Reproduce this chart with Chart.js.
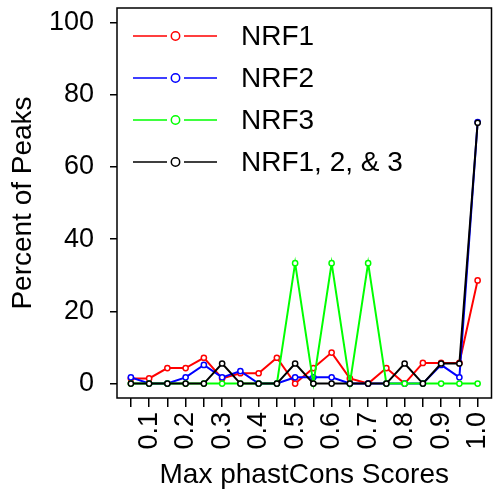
<!DOCTYPE html>
<html>
<head>
<meta charset="utf-8">
<script src="https://cdn.jsdelivr.net/npm/chart.js@4"></script>
<style>
  html, body { margin: 0; padding: 0; background: #fff; }
  #wrap { width: 497px; height: 495px; }
</style>
</head>
<body>
<div id="wrap"><canvas id="chart" width="497" height="495"></canvas></div>
<script>
// phastCons bins (x) and percent of peaks per factor
const scores = [0.05, 0.1, 0.15, 0.2, 0.25, 0.3, 0.35, 0.4, 0.45, 0.5,
                0.55, 0.6, 0.65, 0.7, 0.75, 0.8, 0.85, 0.9, 0.95, 1.0];
const xTickLabels = ["", "0.1", "", "0.2", "", "0.3", "", "0.4", "", "0.5",
                     "", "0.6", "", "0.7", "", "0.8", "", "0.9", "", "1.0"];
const yTicks = [0, 20, 40, 60, 80, 100];

const nrf1 = [1.43, 1.43, 4.29, 4.29, 7.14, 1.43, 2.86, 2.86, 7.14, 0,
              4.29, 8.57, 1.43, 0, 4.29, 0, 5.71, 5.71, 5.71, 28.57];
const nrf2 = [1.72, 0, 0, 1.72, 5.17, 1.72, 3.45, 0, 0, 1.72,
              1.72, 1.72, 0, 0, 0, 0, 0, 5.17, 1.72, 72.41];
const nrf3 = [0, 0, 0, 0, 0, 0, 0, 0, 0, 33.33,
              0, 33.33, 0, 33.33, 0, 0, 0, 0, 0, 0];
const nrfAll = [0, 0, 0, 0, 0, 5.56, 0, 0, 0, 5.56,
                0, 0, 0, 0, 0, 5.56, 0, 5.56, 5.56, 72.22];

const seriesNames = ["NRF1", "NRF2", "NRF3", "NRF1, 2, & 3"];
const seriesColors = ["#ff0000", "#0000ff", "#00ff00", "#000000"];
const seriesValues = [nrf1, nrf2, nrf3, nrfAll];

const FONT = "'Liberation Sans', Arial, sans-serif";

function makeDataset(i) {
  return {
    label: seriesNames[i],
    data: scores.map((x, j) => ({ x: x, y: seriesValues[i][j] })),
    borderColor: seriesColors[i],
    backgroundColor: "#ffffff",
    pointBackgroundColor: "#ffffff",
    pointBorderColor: seriesColors[i],
    pointRadius: 2.6,
    pointBorderWidth: 1.5,
    borderWidth: 2,
    tension: 0,
    order: 3 - i, // black drawn last, on top
  };
}

// box around the plot + R style legend inside
const boxAndLegend = {
  id: "boxAndLegend",
  afterDraw(chart) {
    const ctx = chart.ctx;
    const a = chart.chartArea;
    ctx.save();
    ctx.strokeStyle = "#000";
    ctx.lineWidth = 1.5;
    ctx.strokeRect(a.left, a.top, a.right - a.left, a.bottom - a.top);

    const rowY = [36, 78, 120, 162];
    ctx.font = "28px " + FONT;
    ctx.textBaseline = "middle";
    ctx.textAlign = "left";
    seriesNames.forEach((name, i) => {
      const y = rowY[i];
      ctx.strokeStyle = seriesColors[i];
      ctx.lineWidth = 1.5;
      ctx.beginPath();
      ctx.moveTo(133, y);
      ctx.lineTo(167, y);
      ctx.moveTo(184, y);
      ctx.lineTo(217, y);
      ctx.stroke();
      ctx.beginPath();
      ctx.arc(175.5, y, 4.2, 0, Math.PI * 2);
      ctx.stroke();
      ctx.fillStyle = "#000";
      ctx.fillText(name, 241, y + 1);
    });
    ctx.restore();
  },
};

const ctx = document.getElementById("chart").getContext("2d");
new Chart(ctx, {
  type: "line",
  data: { datasets: [0, 1, 2, 3].map(makeDataset) },
  plugins: [boxAndLegend],
  options: {
    responsive: false,
    animation: false,
    layout: { padding: { top: 8, right: 1, left: 0, bottom: 0 } },
    plugins: { legend: { display: false }, tooltip: { enabled: false } },
    scales: {
      x: {
        type: "linear",
        min: 0.012,
        max: 1.038,
        afterBuildTicks: (scale) => {
          scale.ticks = scores.map((v) => ({ value: v }));
        },
        afterFit: (scale) => {
          scale.height = 97;
          scale.paddingLeft = 0;
          scale.paddingRight = 0;
        },
        border: { display: false },
        grid: {
          drawOnChartArea: false,
          drawTicks: true,
          tickLength: 9,
          color: "#000",
          lineWidth: 1.5,
        },
        ticks: {
          autoSkip: false,
          minRotation: 90,
          maxRotation: 90,
          padding: 5,
          color: "#000",
          font: { family: FONT, size: 27 },
          callback: (value, index) => xTickLabels[index],
        },
        title: {
          display: true,
          text: "Max phastCons Scores",
          color: "#000",
          font: { family: FONT, size: 28 },
          padding: { top: 0, bottom: 3 },
        },
      },
      y: {
        min: -4,
        max: 104,
        afterBuildTicks: (scale) => {
          scale.ticks = yTicks.map((v) => ({ value: v }));
        },
        afterFit: (scale) => {
          scale.width = 117;
          scale.paddingTop = 0;
          scale.paddingBottom = 0;
        },
        border: { display: false },
        grid: {
          drawOnChartArea: false,
          drawTicks: true,
          tickLength: 7,
          color: "#000",
          lineWidth: 1.5,
        },
        ticks: {
          padding: 16,
          color: "#000",
          font: { family: FONT, size: 27 },
          callback: (value) => String(value),
        },
        title: {
          display: true,
          text: "Percent of Peaks",
          color: "#000",
          font: { family: FONT, size: 28 },
          padding: { top: 6, bottom: 0 },
        },
      },
    },
  },
});
</script>
</body>
</html>
